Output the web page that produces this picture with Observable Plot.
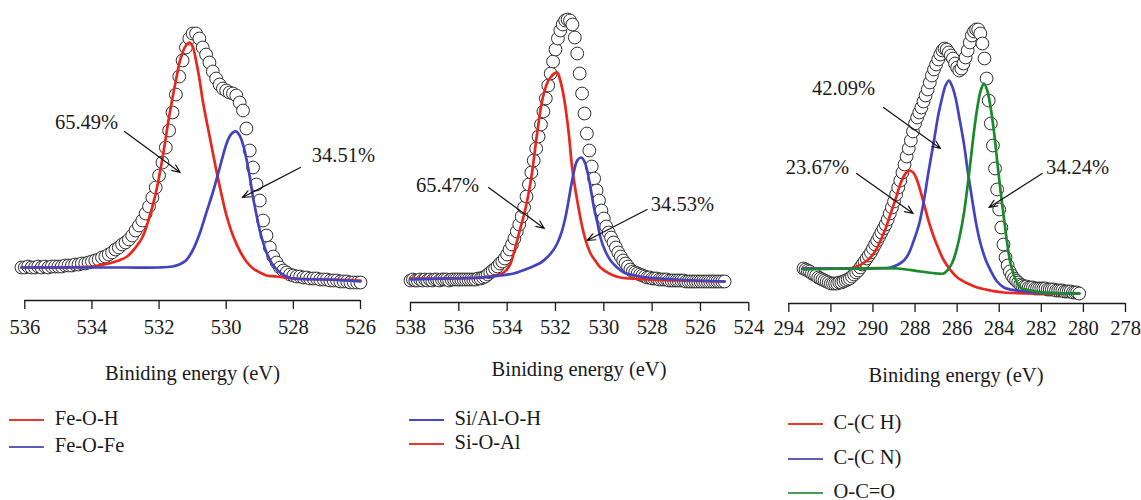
<!DOCTYPE html>
<html><head><meta charset="utf-8">
<script src="https://cdn.jsdelivr.net/npm/d3@7"></script>
<script src="https://cdn.jsdelivr.net/npm/@observablehq/plot@0.6"></script>
<style>
html,body{margin:0;padding:0;background:#fff}
body{width:1141px;height:500px;overflow:hidden;position:relative;font-family:'Liberation Serif',serif;color:#1a1a1a}
.panel{position:absolute;top:0}
.panel svg, .panel svg text{font-family:'Liberation Serif',serif !important}
.title{position:absolute;font-size:20.5px;line-height:20px;white-space:nowrap;transform:translateX(-50%)}
.leg{position:absolute;font-size:20.5px;line-height:20px;white-space:nowrap}
.sw{position:absolute;height:0;width:35px;border-top:2px solid}
</style></head><body>
<div id="p1" class="panel" style="left:0px"></div>
<div id="p2" class="panel" style="left:380px"></div>
<div id="p3" class="panel" style="left:770px"></div>
<div id="extra"></div>
<script>
// ---------- Panel 1: O 1s (Fe) ----------
const feTicks = [536, 534, 532, 530, 528, 526];
const feMeasured = [[536.1,33],[536.0,33],[535.9,34],[535.8,33],[535.7,33],[535.6,34],[535.5,33],[535.4,34],[535.3,33],[535.2,34],[535.1,34],[535.0,34],[534.9,34],[534.8,35],[534.7,35],[534.6,35],[534.5,36],[534.4,36],[534.3,37],[534.2,37],[534.1,38],[534.0,39],[533.9,40],[533.8,41],[533.7,43],[533.6,44],[533.5,46],[533.4,48],[533.3,51],[533.2,53],[533.1,56],[533.0,58],[532.9,61],[532.8,65],[532.7,70],[532.6,75],[532.5,80],[532.4,87],[532.3,94],[532.2,103],[532.1,113],[532.0,125],[531.9,138],[531.8,153],[531.7,170],[531.6,188],[531.5,206],[531.4,224],[531.3,240],[531.2,253],[531.1,262],[531.0,267],[530.9,267],[530.8,262],[530.7,253],[530.6,246],[530.5,238],[530.4,229],[530.3,222],[530.2,216],[530.1,212],[530.0,210],[529.9,208],[529.8,207],[529.7,205],[529.6,198],[529.5,190],[529.4,172],[529.3,150],[529.2,133],[529.1,116],[529.0,100],[528.9,80],[528.8,65],[528.7,53],[528.6,44],[528.5,38],[528.4,33],[528.3,30],[528.2,28],[528.1,26],[528.0,25],[527.9,24],[527.8,24],[527.7,23],[527.6,23],[527.5,22],[527.4,22],[527.3,22],[527.2,21],[527.1,21],[527.0,21],[526.9,20],[526.8,20],[526.7,20],[526.6,19],[526.5,19],[526.4,19],[526.3,18],[526.2,18],[526.1,18],[526.0,18]];
const feOH = [[536.1,33],[535.0,33],[534.0,34],[533.5,37],[533.2,40],[532.95,44],[532.7,53],[532.5,63],[532.3,82],[532.1,107],[531.9,142],[531.7,184],[531.5,220],[531.35,243],[531.2,255],[531.1,258],[531.0,254],[530.9,240],[530.8,222],[530.7,200],[530.6,182],[530.5,165],[530.4,148],[530.3,131],[530.2,115],[530.1,100],[530.0,86],[529.8,65],[529.6,50],[529.4,39],[529.2,32],[529.0,28],[528.8,25],[528.5,24],[528.0,22],[527.0,21],[526.0,20]];
const feOFe = [[536.1,33],[535.0,33],[534.0,33],[533.0,33],[532.0,33],[531.6,34],[531.4,36],[531.2,40],[531.0,50],[530.8,66],[530.6,87],[530.4,108],[530.2,132],[530.0,156],[529.9,164],[529.8,168],[529.7,169],[529.6,165],[529.5,156],[529.4,142],[529.3,124],[529.2,103],[529.1,86],[529.0,70],[528.8,48],[528.6,35],[528.4,28],[528.2,24],[528.0,22],[527.0,21],[526.0,19]];
const feShares = ["65.49%", "34.51%"];

// ---------- Panel 2: O 1s (Si/Al) ----------
const siTicks = [538, 536, 534, 532, 530, 528, 526, 524];
const siMeasured = [[538.0,22],[537.9,23],[537.8,22],[537.7,22],[537.6,23],[537.5,22],[537.4,23],[537.3,22],[537.2,23],[537.1,22],[537.0,23],[536.9,23],[536.8,22],[536.7,23],[536.6,23],[536.5,23],[536.4,22],[536.3,23],[536.2,23],[536.1,23],[536.0,23],[535.9,23],[535.8,23],[535.7,23],[535.6,23],[535.5,23],[535.4,23],[535.3,23],[535.2,24],[535.1,24],[535.0,25],[534.9,26],[534.8,28],[534.7,30],[534.6,32],[534.5,34],[534.4,36],[534.3,39],[534.2,41],[534.1,44],[534.0,48],[533.9,53],[533.8,58],[533.7,64],[533.6,71],[533.5,78],[533.4,86],[533.3,95],[533.2,106],[533.1,118],[533.0,130],[532.9,142],[532.8,154],[532.7,166],[532.6,178],[532.5,191],[532.4,204],[532.3,217],[532.2,229],[532.1,241],[532.0,253],[531.9,264],[531.8,272],[531.7,278],[531.6,282],[531.5,283],[531.4,282],[531.3,278],[531.2,265],[531.1,249],[531.0,229],[530.9,209],[530.8,189],[530.7,169],[530.6,152],[530.5,136],[530.4,124],[530.3,112],[530.2,102],[530.1,92],[530.0,84],[529.9,76],[529.8,70],[529.7,65],[529.6,60],[529.5,55],[529.4,50],[529.3,46],[529.2,42],[529.1,39],[529.0,36],[528.9,33],[528.8,31],[528.7,30],[528.6,29],[528.5,28],[528.4,27],[528.3,26],[528.2,25],[528.1,25],[528.0,24],[527.9,24],[527.8,24],[527.7,23],[527.6,23],[527.5,23],[527.4,23],[527.3,22],[527.2,22],[527.1,22],[527.0,22],[526.9,22],[526.8,22],[526.7,22],[526.6,21],[526.5,21],[526.4,21],[526.3,21],[526.2,21],[526.1,21],[526.0,21],[525.9,21],[525.8,21],[525.7,21],[525.6,21],[525.5,21],[525.4,21],[525.3,21],[525.2,21],[525.1,21],[525.0,21]];
const siAlOH = [[538,23],[536.5,24],[535.1,25],[534.3,27],[533.73,29],[533.04,35],[532.6,40],[532.35,45],[532.1,52],[531.93,59],[531.75,70],[531.59,85],[531.45,103],[531.31,122],[531.1,142],[530.93,145],[530.8,141],[530.69,132],[530.55,115],[530.41,95],[530.25,78],[530.14,65],[529.95,52],[529.72,42],[529.45,35],[529.17,30],[528.7,27],[528.2,25],[527,23],[525,21]];
const siOAl = [[538,24],[536,24],[535,25],[534.5,27],[534.14,30],[533.9,37],[533.73,49],[533.5,70],[533.3,88],[533.17,102],[533.0,125],[532.76,169],[532.55,202],[532.35,219],[532.21,225],[532.05,229],[531.93,230],[531.8,222],[531.63,202],[531.45,169],[531.31,135],[531.1,102],[530.83,69],[530.55,49],[530.3,40],[530.14,35],[529.7,28],[529.31,25],[528.2,23],[527,22],[525,21]];
const siShares = ["65.47%", "34.53%"];

// ---------- Panel 3: C 1s ----------
const cTicks = [294, 292, 290, 288, 286, 284, 282, 280, 278];
const cMeasured = [[293.3,35],[293.2,34],[293.1,33],[293.0,32],[292.9,30],[292.8,29],[292.7,28],[292.6,26],[292.5,25],[292.4,24],[292.3,23],[292.2,22],[292.1,21],[292.0,20],[291.9,20],[291.8,20],[291.7,20],[291.6,21],[291.5,21],[291.4,22],[291.3,23],[291.2,24],[291.1,25],[291.0,27],[290.9,29],[290.8,31],[290.7,33],[290.6,36],[290.5,39],[290.4,42],[290.3,45],[290.2,48],[290.1,51],[290.0,55],[289.9,59],[289.8,63],[289.7,67],[289.6,71],[289.5,75],[289.4,79],[289.3,84],[289.2,90],[289.1,96],[289.0,102],[288.9,109],[288.8,116],[288.7,123],[288.6,131],[288.5,139],[288.4,147],[288.3,155],[288.2,163],[288.1,172],[288.0,180],[287.9,186],[287.8,191],[287.7,196],[287.6,202],[287.5,208],[287.4,214],[287.3,221],[287.2,228],[287.1,234],[287.0,239],[286.9,244],[286.8,249],[286.7,253],[286.6,255],[286.5,254],[286.4,251],[286.3,248],[286.2,245],[286.1,240],[286.0,236],[285.9,233],[285.8,235],[285.7,240],[285.6,246],[285.5,253],[285.4,261],[285.3,268],[285.2,272],[285.1,274],[285.0,274],[284.9,270],[284.8,260],[284.7,245],[284.6,225],[284.5,203],[284.4,180],[284.3,158],[284.2,135],[284.1,114],[284.0,94],[283.9,76],[283.8,59],[283.7,46],[283.6,38],[283.5,32],[283.4,28],[283.3,25],[283.2,23],[283.1,21],[283.0,19],[282.9,18],[282.8,17],[282.7,17],[282.6,16],[282.5,16],[282.4,16],[282.3,15],[282.2,15],[282.1,15],[282.0,15],[281.9,15],[281.8,15],[281.7,14],[281.6,14],[281.5,14],[281.4,14],[281.3,13],[281.2,13],[281.1,13],[281.0,13],[280.9,12],[280.8,12],[280.7,12],[280.6,12],[280.5,11],[280.4,11],[280.3,11],[280.2,10]];
const cCH = [[293.3,35],[292,35],[290.9,36],[290.27,43],[289.9,52],[289.64,63],[289.4,75],[289.16,90],[288.9,106],[288.69,120],[288.45,130],[288.24,133],[288.05,130],[287.9,123],[287.58,100],[287.35,82],[287.1,66],[286.85,53],[286.63,43],[286.3,33],[285.99,26],[285.5,20],[285.04,16],[284.4,13],[283.78,11],[282,10],[280.2,10]];
const cCN = [[293.3,35],[291,35],[289.16,36],[288.8,39],[288.53,43],[288.3,50],[288.06,63],[287.8,80],[287.58,103],[287.35,133],[287.1,163],[286.9,188],[286.71,206],[286.55,218],[286.39,223],[286.25,218],[286.08,206],[285.9,186],[285.68,160],[285.48,130],[285.28,103],[285.08,78],[284.89,60],[284.65,44],[284.41,33],[284.1,22],[283.78,16],[283.2,13],[282.2,11],[280.2,10]];
const cOCO = [[293.3,34],[291,35],[288.85,35],[287.74,32],[286.95,30],[286.65,30],[286.47,33],[286.25,40],[286.08,50],[285.88,67],[285.68,90],[285.52,115],[285.36,143],[285.2,172],[285.04,196],[284.88,213],[284.73,220],[284.57,213],[284.41,196],[284.25,172],[284.1,143],[283.94,113],[283.78,86],[283.62,60],[283.46,40],[283.2,23],[282.99,16],[282.5,13],[281.88,11],[280.2,10]];
const cShares = ["42.09%", "23.67%", "34.24%"];

// ---------- styling ----------
const RED = "#e8271d", BLUE = "#4343c2", GREEN = "#1b8a2c";
const FONT = "'Liberation Serif', serif";

function panel(el, o) {
  const H = 345;
  const svg = Plot.plot({
    width: o.width, height: H,
    marginLeft: o.ml, marginRight: o.mr, marginTop: 0, marginBottom: H - o.axisY,
    x: {domain: o.domain},
    y: {domain: [0, o.axisY], axis: null},
    style: {fontFamily: FONT, fontSize: "20.5px", color: "#1a1a1a", background: "transparent", overflow: "visible"},
    marks: [
      Plot.ruleY([0], {stroke: "#1a1a1a", strokeWidth: 1.3}),
      Plot.axisX(o.ticks, {tickSize: 9, tickPadding: o.pad, strokeWidth: 1.3, fontSize: 20.5, fontFamily: FONT, fill: "#1a1a1a"}),
      Plot.dot(o.measured, {x: d => d[0], y: d => d[1], r: 6.4, fill: "white", stroke: "#2b2b2b", strokeWidth: 1}),
      ...o.fits.map(f => Plot.line(f.data, {x: d => d[0], y: d => d[1], stroke: f.color, strokeWidth: 2.7, curve: "catmull-rom"})),
      Plot.arrow(o.notes, {x1: "x1", y1: "y1", x2: "x2", y2: "y2", stroke: "#111", strokeWidth: 1.2, headLength: 11, headAngle: 45}),
      Plot.text(o.notes, {x: "tx", y: "ty", text: "label", fontSize: 20.5, fontFamily: FONT, fill: "#1a1a1a"})
    ]
  });
  svg.setAttribute("font-family", FONT);
  document.getElementById(el).appendChild(svg);
}

panel("p1", {
  width: 380, ml: 24.3, mr: 20, axisY: 300, pad: 10, domain: [536, 526], ticks: feTicks,
  measured: feMeasured,
  fits: [{data: feOH, color: RED}, {data: feOFe, color: BLUE}],
  notes: [
    {label: feShares[0], tx: 534.16, ty: 178, x1: 533.03, y1: 169, x2: 531.37, y2: 128},
    {label: feShares[1], tx: 526.51, ty: 145, x1: 527.79, y1: 133, x2: 529.52, y2: 103}
  ]
});
panel("p2", {
  width: 390, ml: 30, mr: 21.7, axisY: 302, pad: 8, domain: [538, 524], ticks: siTicks,
  measured: siMeasured,
  fits: [{data: siOAl, color: RED}, {data: siAlOH, color: BLUE}],
  notes: [
    {label: siShares[0], tx: 536.47, ty: 117, x1: 534.77, y1: 115, x2: 532.46, y2: 74},
    {label: siShares[1], tx: 526.75, ty: 98, x1: 528.21, y1: 93, x2: 530.69, y2: 62}
  ]
});
panel("p3", {
  width: 371, ml: 18.3, mr: 16, axisY: 303, pad: 8, domain: [294, 278], ticks: cTicks,
  measured: cMeasured,
  fits: [{data: cCH, color: RED}, {data: cCN, color: BLUE}, {data: cOCO, color: GREEN}],
  notes: [
    {label: cShares[0], tx: 291.4, ty: 215, x1: 289.5, y1: 196, x2: 286.79, y2: 155},
    {label: cShares[1], tx: 292.64, ty: 136, x1: 290.78, y1: 130, x2: 288.09, y2: 90},
    {label: cShares[2], tx: 280.28, ty: 136, x1: 281.96, y1: 130, x2: 284.49, y2: 96}
  ]
});

// ---------- axis titles and legends (HTML, below the SVGs) ----------
const axisTitle = "Biniding energy (eV)";
const titles = [{x: 192.5, top: 363}, {x: 579, top: 359}, {x: 956, top: 365}];
const legends = [
  {x: 9.3, items: [{t: "Fe-O-H", c: "#e8392f", top: 408}, {t: "Fe-O-Fe", c: "#5d5db8", top: 435}]},
  {x: 409, items: [{t: "Si/Al-O-H", c: "#4a4ac0", top: 408}, {t: "Si-O-Al", c: "#e8392f", top: 432}]},
  {x: 788, items: [{t: "C-(C H)", c: "#e8392f", top: 412}, {t: "C-(C N)", c: "#5d5db8", top: 447}, {t: "O-C=O", c: "#4a9a5c", top: 481}]}
];
const extra = document.getElementById("extra");
titles.forEach(t => {
  const d = document.createElement("div");
  d.className = "title"; d.textContent = axisTitle;
  d.style.left = t.x + "px"; d.style.top = t.top + "px";
  extra.appendChild(d);
});
legends.forEach(g => g.items.forEach(it => {
  const sw = document.createElement("div");
  sw.className = "sw"; sw.style.borderTopColor = it.c;
  sw.style.left = g.x + "px"; sw.style.top = (it.top + 11) + "px";
  extra.appendChild(sw);
  const tx = document.createElement("div");
  tx.className = "leg"; tx.textContent = it.t;
  tx.style.left = (g.x + 45.5) + "px"; tx.style.top = it.top + "px";
  extra.appendChild(tx);
}));
</script>
</body></html>
